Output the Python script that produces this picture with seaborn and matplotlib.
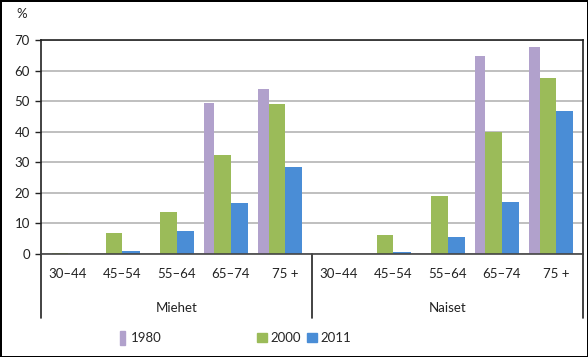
import matplotlib
matplotlib.use("Agg")
import matplotlib.pyplot as plt
from matplotlib.patches import Patch
import seaborn as sns
import pandas as pd

ages = ['30–44', '45–54', '55–64', '65–74', '75 +']
groups = ['Miehet', 'Naiset']
years = ['1980', '2000', '2011']
v1980 = [0, 0, 0, 49.5, 54.1, 0, 0, 0, 64.8, 67.7]
v2000 = [0.3, 6.8, 13.6, 32.4, 49.2, 0, 6.1, 18.9, 39.9, 57.7]
v2011 = [0, 1.1, 7.6, 16.6, 28.6, 0, 0.5, 5.6, 17.1, 46.7]
colors = ['#b1a1cc', '#9bbb59', '#4a8dd6']

keys = [g + ' ' + a for g in groups for a in ages]
rows = []
for yr, vals in zip(years, [v1980, v2000, v2011]):
    for k, v in zip(keys, vals):
        rows.append({'key': k, 'year': yr, 'value': v})
df = pd.DataFrame(rows)

sns.set_style('white')
plt.rcParams['font.family'] = ['Lato', 'DejaVu Sans']

fig = plt.figure(figsize=(5.88, 3.57), dpi=100, edgecolor='black', linewidth=2)
ax = fig.add_axes([41/588, 1-254/357, 542/588, 214/357])

sns.barplot(data=df, x='key', y='value', hue='year', order=keys, hue_order=years,
            palette=colors, width=0.9, saturation=1, legend=False, ax=ax)

# Excel-like bar layout: green/blue meet at the category centre, purple narrower
for i, cont in enumerate(ax.containers):
    for p in cont.patches:
        p.set_linewidth(0)
        x0 = p.get_x() - 0.15
        if i == 0:
            p.set_x(x0 + 0.3 - 0.19)
            p.set_width(0.19)
        elif i == 2:
            p.set_x(x0)
            p.set_width(0.32)
        else:
            p.set_x(x0)

ax.set_xlim(-0.5, 9.5)
ax.set_ylim(0, 70)
ax.set_yticks(range(0, 71, 10))
ax.yaxis.grid(True, color='#bfbfbf', linewidth=1.4)
ax.set_axisbelow(True)
ax.set_xticks(range(10))
ax.set_xticklabels(ages * 2)
ax.set_xlabel('')
ax.set_ylabel('')
ax.tick_params(axis='x', length=0, pad=10, labelsize=9.5, colors='#222222')
ax.tick_params(axis='y', left=True, length=4.5, width=1, pad=3.5, labelsize=9.5,
               colors='#222222')

for s in ['left', 'top', 'right']:
    ax.spines[s].set_color('#222222')
    ax.spines[s].set_linewidth(1.2)
ax.spines['bottom'].set_color('#444444')
ax.spines['bottom'].set_linewidth(1.2)

# group dividers below the axis
tr = ax.get_xaxis_transform()
for xb in [-0.5, 4.5, 9.5]:
    ax.plot([xb, xb], [0, -0.3], transform=tr, color='#222222', lw=1.2,
            clip_on=False)
ax.text(2, -0.252, 'Miehet', transform=tr, ha='center', va='center', fontsize=9.5,
        color='#222222')
ax.text(7, -0.252, 'Naiset', transform=tr, ha='center', va='center', fontsize=9.5,
        color='#222222')

fig.text(22/588, 1-14/357, '%', ha='center', va='center', fontsize=9.5, color='#222222')

leg1 = fig.legend(handles=[Patch(color=colors[0])], labels=['1980'], loc='center left',
                  bbox_to_anchor=(120/588, 1-338/357), frameon=False, borderpad=0,
                  borderaxespad=0, handlelength=0.4, handleheight=1.15,
                  handletextpad=0.45, fontsize=9.5)
fig.legend(handles=[Patch(color=colors[1]), Patch(color=colors[2])],
           labels=['2000', '2011'], loc='center left', ncol=2,
           bbox_to_anchor=(257/588, 1-338/357), frameon=False, borderpad=0,
           borderaxespad=0, handlelength=0.75, handleheight=0.6,
           handletextpad=0.3, columnspacing=0.4, fontsize=9.5)

fig.savefig('out.png', dpi=100)
